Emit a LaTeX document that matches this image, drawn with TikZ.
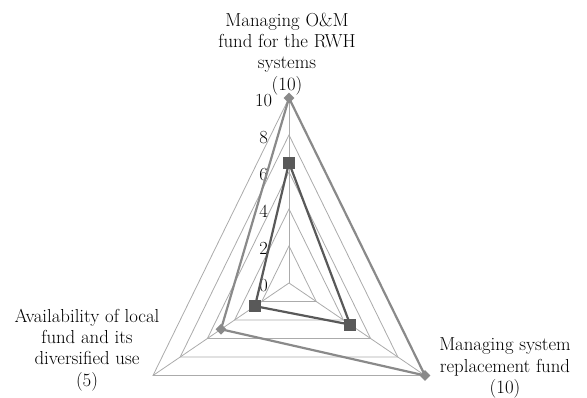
\documentclass[tikz,border=0pt]{standalone}
\usepackage{fontspec}
\usetikzlibrary{
  calc,
  positioning,
  shapes.geometric,
}
\definecolor{gridgray}{HTML}{ABABAB}
\definecolor{serA}{HTML}{595959}
\definecolor{serB}{HTML}{8A8A8A}

\begin{document}
\begin{tikzpicture}[
    x = 1pt,
    y = -1pt,
    g/.style={draw=gridgray, line width=0.8pt},
    s/.style={line width=2.2pt, line join=round},
    l/.style={font=\fontsize{18.8}{21.3}\selectfont, align=center,
      inner sep=0pt, outer sep=0pt},
    t/.style={font=\fontsize{18.5}{20}\selectfont, inner sep=0pt},
    sq/.style={fill=serA, minimum size=12pt, inner sep=0pt},
    dm/.style={fill=serB, diamond, aspect=1, minimum size=11pt,
      inner sep=0pt},]
  \useasboundingbox (0,0) rectangle (587,398);
  %% axes
  \coordinate (C) at (289,283);
  \coordinate (T) at (289,98);
  \coordinate (R) at (425,375.5);
  \coordinate (L) at (153,375.5);
  %%
  \foreach \v in {2,4,...,10}
    \draw[g] ($(C)!\v/10!(T)$) -- ($(C)!\v/10!(R)$)
    -- ($(C)!\v/10!(L)$) -- cycle;
  \foreach \p in {T,R,L}
    \draw[g] (C) -- (\p);
  \foreach \v in {0,2,...,10}
    \node[t] (k\v) at ($(C)!\v/10!(T)+(-25.5,2.5)$) {\v};
  %% series with squares
  \coordinate (a1) at ($(C)!.65!(T)$);
  \coordinate (a2) at ($(C)!.45!(R)$);
  \coordinate (a3) at ($(C)!.25!(L)$);
  \draw[s,serA] (a1) -- (a2) -- (a3) -- cycle;
  \foreach \i in {1,2,3}
    \node[sq] (ma\i) at (a\i) {};
  %% series with diamonds
  \coordinate (b1) at (T);
  \coordinate (b2) at (R);
  \coordinate (b3) at ($(C)!.5!(L)$);
  \draw[s,serB] (b1) -- (b2) -- (b3) -- cycle;
  \foreach \i in {1,2,3}
    \node[dm] (mb\i) at (b\i) {};
  %% category labels
  \node[l, anchor=south] (lT) at (287,95)
  {Managing O\&M\\fund for the RWH\\systems\\(10)};
  \node[l] (lL) at (87,350)
  {Availability of local\\fund and its\\diversified use\\(5)};
  \node[l] (lR) at (505,368)
  {Managing system\\replacement fund\\(10)};
\end{tikzpicture}
\end{document}
